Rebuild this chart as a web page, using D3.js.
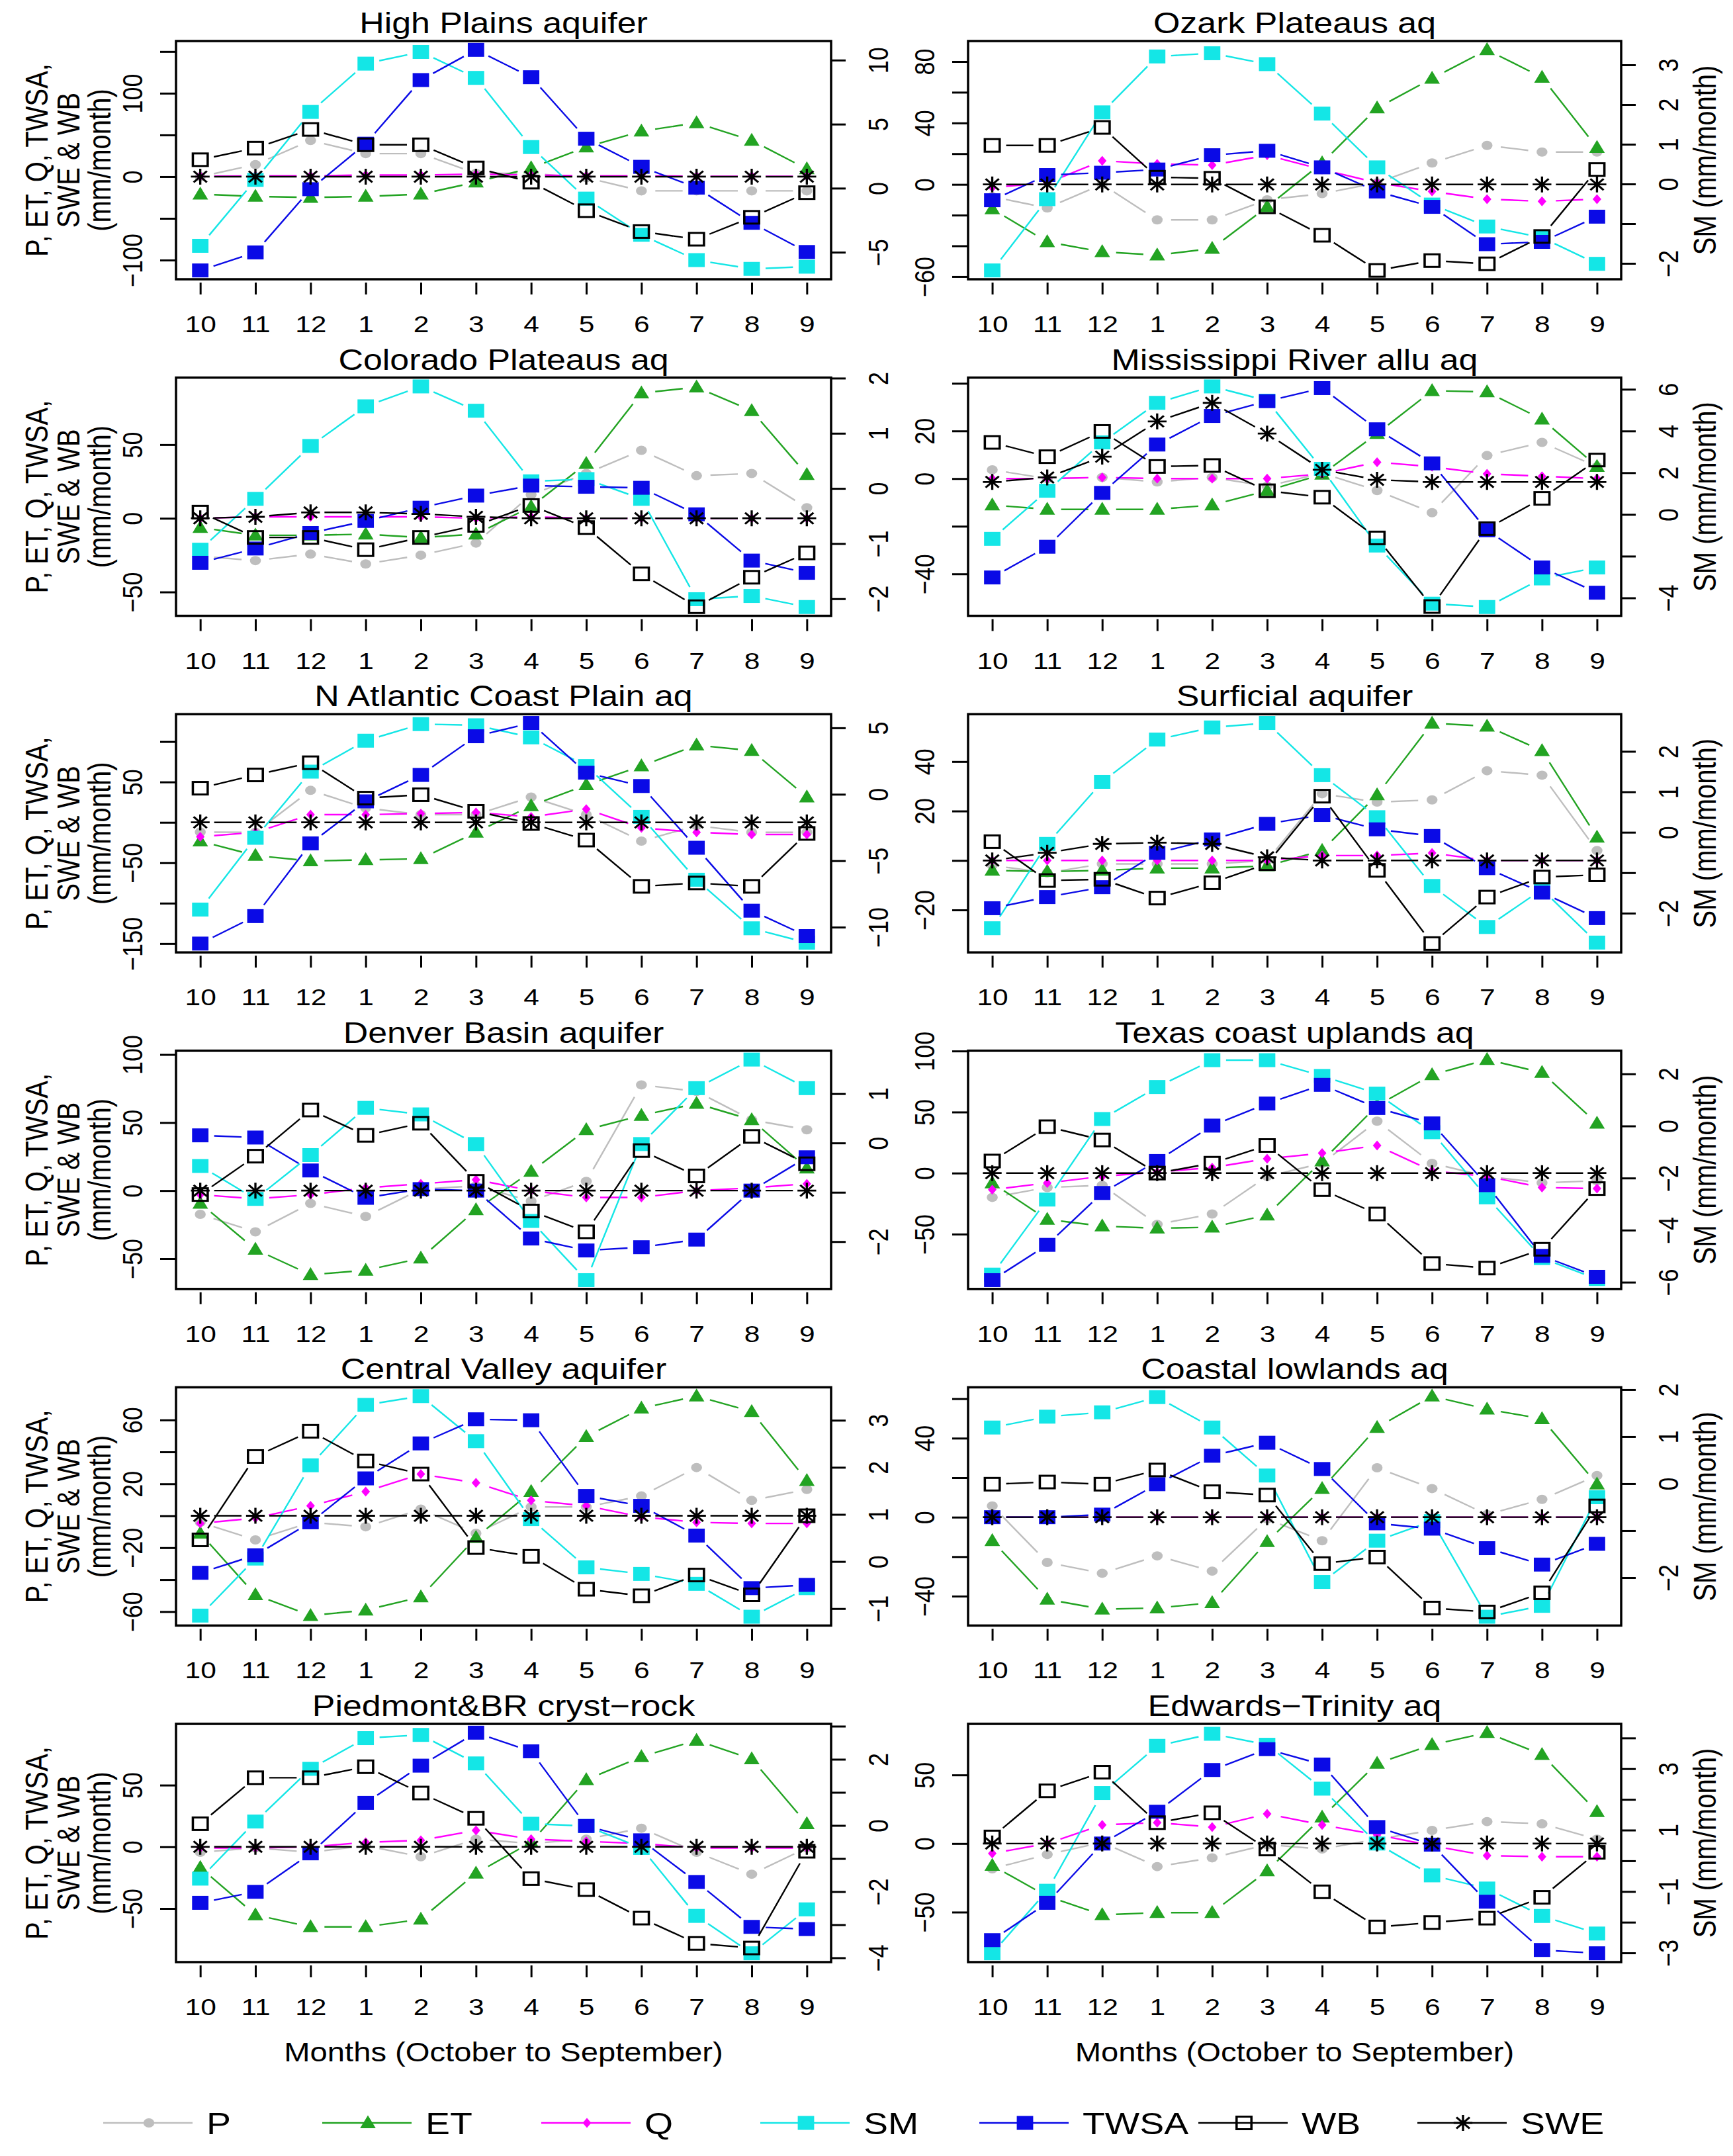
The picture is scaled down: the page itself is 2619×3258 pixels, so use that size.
<!DOCTYPE html>
<html>
<head>
<meta charset="utf-8">
<script src="https://cdn.jsdelivr.net/npm/d3@7"></script>
<style>
  body { margin: 0; background: #fff; }
  svg { display: block; }
  text { font-family: "Liberation Sans", Arial, sans-serif; fill: #000; }
</style>
</head>
<body>
<svg id="chart" width="2619" height="3258"></svg>
<script>
// ---- data (mm/month), water year Oct..Sep, one row per aquifer ----
const titles = ['High Plains aquifer', 'Ozark Plateaus aq', 'Colorado Plateaus aq', 'Mississippi River allu aq',
  'N Atlantic Coast Plain aq', 'Surficial aquifer', 'Denver Basin aquifer', 'Texas coast uplands aq',
  'Central Valley aquifer', 'Coastal lowlands aq', 'Piedmont&BR cryst\u2212rock', 'Edwards\u2212Trinity aq'];
const months = [10, 11, 12, 1, 2, 3, 4, 5, 6, 7, 8, 9];

const P = [
  [0, 14.5, 43.4, 27.6, 27.6, 4, 4, -1.3, -17, -17, -17, -17],
  [-8, -15.3, 0, -23.1, -23.1, -10, -6, 1, 14, 25.4, 21.1, 21.1],
  [-25.7, -28.7, -24.3, -31, -25, -16.8, 16, 30.4, 46.1, 28.9, 30.4, 7.2],
  [3.7, 0, 0.5, -1.4, 0.5, -3.2, 2.3, -5, -14.3, 9.7, 15.2, 5],
  [-12, -12.3, 39.6, 17.8, 9.6, 9.6, 31.4, 9.6, -23.2, -4, -12.3, -12.3],
  [-2, -5, -1.4, -1.4, -1.4, 0, 27, 23.6, 24.5, 36.3, 34.5, 4],
  [-17.4, -30.3, -9.4, -19, 1, 3.5, -7.7, 6.8, 77.7, 72.9, 52, 44.7],
  [-19.9, -11.8, -10, -42, -33.5, -2.7, 8, 42.5, 8, -2.7, -8, -6.3],
  [-4.1, -15.1, -4.1, -6.9, 4.1, -11, 5.5, 5.5, 12.4, 30.2, 9.6, 16.5],
  [5.7, -22.9, -28.4, -19.6, -27.3, -0.9, -11.9, 25, 14.5, 1.3, 9, 21.1],
  [-4.4, -0.9, -4.4, 0.9, -8, 6.2, 2.7, 6.2, 15.1, -4.4, -22.2, -0.9],
  [-18.4, -8, 0.8, -16.8, -10.4, -0.8, -4, 3.2, 9.6, 16, 14.4, 3.2]
];
const ET = [
  [-21, -23.7, -25, -23.7, -21, -6.6, 10.5, 35.5, 54.5, 64.5, 43.4, 9.2],
  [-16, -37.4, -43.9, -46, -41.7, -14.6, 14, 49.7, 69, 87.6, 69.7, 24],
  [-6.3, -11.5, -11.5, -10.8, -13, -10.8, 7.9, 37.1, 85, 89, 73, 29.6],
  [-11.1, -12.9, -12.9, -12.9, -11.1, -5.1, 1.8, 18.9, 36.9, 36.4, 24.9, 5.1],
  [-23.2, -41, -47.8, -46.4, -45, -12.3, 20.5, 46.4, 69.7, 95.6, 88.8, 31.4],
  [-4, -4.5, -4, -3.1, -3.1, -2.2, 4, 26.5, 55.5, 54.3, 44.4, 9.4],
  [-9.4, -43.2, -61.8, -58.6, -49.7, -14.2, 14, 44.7, 55.2, 64, 52, 16.5],
  [-8.1, -38, -43.4, -45.2, -44.3, -34.4, 9.9, 55.2, 80.5, 93, 82.3, 40.7],
  [-11, -49.5, -62.5, -59.1, -50.8, -13.7, 15.1, 49.5, 67.3, 74.9, 65.2, 22],
  [-11.9, -41.6, -46.6, -46, -43.3, -12.4, 14.5, 45.4, 61.3, 54.7, 49.8, 16.7],
  [-16.9, -55.2, -64.9, -64.9, -58.7, -21.4, 3.6, 54.3, 73, 86.3, 71.2, 18.7],
  [-16, -38.4, -52, -50.4, -50.4, -20, 19.2, 58.4, 72, 80.8, 64.8, 23.2]
];
const Q = [
  [0.5, 1, 1, 2, 2, 3, 2, 1, 1, 0.5, 0.5, 0.5],
  [-2, 1, 15.4, 13.3, 12.6, 19, 9.7, 1.1, -4.6, -9.6, -11, -9.6],
  [0, 1, 1, 1, 1, 0, 1, 0, 0, 0, 0, 0],
  [0, 0, 0.5, 0, 0, 0, 2, 6.9, 5, 2, 1, 0],
  [-17.8, -12.3, 9.6, 9.6, 10.9, 12.3, 6.8, 16.4, -6.8, -12.3, -15, -15],
  [0, 0, 0, 0, 0, 0, 2, 2, 3, 0, 0, 0],
  [-3, -6, -3, 2, 5, 8, 0, -5, -5, 0, 2, 5],
  [-13.6, -8.1, -2.7, 0.9, 4.5, 11.8, 16.3, 22.6, 1.8, -2.7, -11.8, -12.7],
  [-4.8, -1.4, 6.2, 15.1, 26.1, 20.6, 9.6, 6.2, -0.7, -4.1, -4.8, -4.8],
  [0, 0, 0, 0, 0, 0, 0, 0, 0, 0, 0, 0],
  [-0.9, -0.9, 0, 3.6, 5.3, 13.3, 6.2, 4.4, 2.7, -0.9, -0.9, -0.9],
  [-7.2, 0, 13.6, 15.2, 12, 21.6, 13.6, 6.4, -1.6, -8.8, -9.6, -9.6]
];
const SM = [
  [-82.9, -3.9, 77.6, 135.5, 149.5, 118.4, 35.5, -26.3, -69.7, -100, -110.5, -107.9],
  [-56, -9.6, 46.9, 83.3, 85.4, 78.3, 46.1, 11.1, -13.1, -27.4, -34.6, -51.7],
  [-21.3, 13.2, 49.1, 76, 89.5, 73, 25.1, 26.6, 13.2, -54.9, -52.7, -60.2],
  [-25.3, -5.1, 15.2, 31.8, 38.7, 32.7, 4.1, -28.1, -52.5, -53.9, -41.9, -37.3],
  [-107.9, -19.1, 62.8, 101.1, 121.6, 120.2, 105.2, 69.7, 6.8, -71, -131.1, -148.9],
  [-27.4, 6.7, 31.8, 48.9, 53.8, 55.6, 34.5, 17.5, -10.3, -26.9, -11.7, -33.2],
  [18.1, -6.1, 26.1, 60.8, 56, 34.2, -22.3, -65.8, 34.2, 75.3, 96.3, 75.3],
  [-83.2, -21.7, 44.3, 70.5, 92.5, 92.5, 79.6, 65.1, 33.5, -19.9, -69.6, -86.8],
  [-62.5, -26.8, 31.6, 69.4, 74.9, 46.7, -2.1, -32.3, -36.4, -42.6, -63.2, -45.3],
  [45.4, 50.9, 53.1, 60.8, 45.4, 21.1, -32.8, -11.9, -2, -50.4, -44.9, 10.1],
  [-25.8, 20.5, 63.2, 88.1, 90.7, 67.6, 18.7, 16.9, -0.9, -56, -86.3, -50.7],
  [-80, -34.4, 36.8, 71.2, 80, 72, 40, 0, -23.2, -32.8, -52.8, -65.6]
];
const TWSA = [
  [-112.4, -90.8, -15, 39.5, 115.8, 152, 119.2, 45.5, 11.8, -13.2, -55.3, -90.3],
  [-10.3, 6.1, 7.6, 9.7, 19, 21.9, 11.1, -4.6, -14.6, -38.9, -37.4, -21],
  [-30.2, -20.5, -10, -1.8, 7.2, 15.4, 22.2, 21.4, 20.7, 2.7, -28.7, -37],
  [-41.5, -28.6, -6, 14.3, 26.3, 32.5, 38, 20.7, 6.4, -21.7, -37.3, -47.9],
  [-150, -116, -26, 26, 58.7, 106.6, 123, 61.5, 45, -31.4, -109.3, -140.7],
  [-19.3, -14.8, -10.8, 3.1, 8.5, 14.8, 18.4, 12.6, 9.9, -3.1, -13, -23.3],
  [40.6, 39, 14.8, -5.3, 1.1, 0, -35.2, -44, -41.6, -36, 0, 24.5],
  [-87.7, -58.8, -16.3, 9.9, 38.9, 57, 72.3, 53.3, 40.7, -9.9, -67.8, -85],
  [-35.7, -24.7, -4.1, 23.4, 45.3, 60.4, 59.8, 12.4, 6.2, -12.4, -45.3, -43.3],
  [0, 0, 1.3, 16.7, 31.1, 37.7, 24.4, -3.1, -5.8, -15.7, -24, -13.5],
  [-45.4, -36.5, -5.3, 35.6, 65.8, 92.5, 77.4, 16.9, 5.3, -28.5, -64.9, -66.7],
  [-70.4, -43.2, 0, 23.2, 53.6, 68.8, 57.6, 12, -0.8, -42.4, -77.6, -80]
];
const WB = [
  [20.3, 34.2, 56.6, 38.2, 38.2, 10.5, -6.6, -40.8, -65.8, -75, -48.7, -19.2],
  [25.4, 25.4, 37.1, 4.7, 4, -14.6, -33.1, -56, -49.6, -51.7, -33.9, 9.7],
  [4.2, -13, -13, -21.3, -13, -4.8, 8.7, -6.3, -37.7, -60, -40, -23.5],
  [15.2, 9.2, 19.8, 5.1, 5.5, -5.1, -7.8, -24.9, -53.7, -21, -8.3, 7.8],
  [42.3, 58.7, 73.8, 30, 34.2, 13.7, -1.4, -21.9, -79.2, -75, -79.2, -13.7],
  [7.6, -8.1, -7.6, -15.2, -9, -1.3, 26, -4, -33.6, -14.8, -6.7, -5.8],
  [-2.9, 25.3, 59.2, 40.6, 49.5, 6.8, -15, -30.3, 29.4, 10.8, 39.8, 19.7],
  [9.9, 38, 27.1, 0, 8.1, 22.6, -13.6, -33.5, -74.1, -77.8, -62.4, -12.7],
  [-15.1, 37.1, 52.9, 34.3, 26.1, -19.9, -25.4, -46, -50.1, -37.1, -49.5, 0],
  [16.7, 17.8, 16.7, 23.9, 12.9, 11.2, -23.5, -20.2, -46, -48, -38.3, 5.7],
  [18.7, 56, 56, 64.9, 43.6, 23.1, -25.8, -34.7, -57.8, -78.3, -82, -3.6],
  [4.8, 38.4, 52, 15.2, 22.4, -4, -35.2, -60.8, -57.6, -54.4, -39.2, -6.4]
];
const SWE = [
  [0, 0, 0, 0, 0, 0, 0, 0, 0, 0, 0, 0],
  [0, 0, 0, 0, 0, 0, 0, 0, 0, 0, 0, 0],
  [0, 1, 4, 4, 3, 1, 0, 0, 0, 0, 0, 0],
  [-1.4, 0.5, 9.2, 24, 31.8, 18.9, 3.7, -0.5, -1.4, -1.4, -1.4, -1.4],
  [0, 0, 0, 0, 0, 0, 0, 0, 0, 0, 0, 0],
  [0, 3.1, 6.7, 7.2, 6.7, 1.3, 0, 0, 0, 0, 0, 0],
  [0, 0, 0, 0, 0, 0, 0, 0, 0, 0, 0, 0],
  [0, 0, 0, 0, 0, 0, 0, 0, 0, 0, 0, 0],
  [0, 0, 0, 0, 0, 0, 0, 0, 0, 0, 0, 0],
  [0, 0, 0, 0, 0, 0, 0, 0, 0, 0, 0, 0],
  [0, 0, 0, 0, 0, 0, 0, 0, 0, 0, 0, 0],
  [0, 0, 0, 0, 0, 0, 0, 0, 0, 0, 0, 0]
];

// left axis ticks and which of them carry a label
const leftTicks = [
  [-100, -50, 0, 50, 100, 150], [-60, -40, -20, 0, 20, 40, 60, 80], [-50, 0, 50], [-40, -20, 0, 20, 40],
  [-150, -100, -50, 0, 50, 100], [-20, 0, 20, 40], [-50, 0, 50, 100], [-50, 0, 50, 100],
  [-60, -40, -20, 0, 20, 40, 60], [-40, -20, 0, 20, 40, 60], [-50, 0, 50], [-50, 0, 50]
];
const leftLabels = [
  [-100, 0, 100], [-60, 0, 40, 80], [-50, 0, 50], [-40, 0, 20],
  [-150, -50, 50], [-20, 20, 40], [-50, 0, 50, 100], [-50, 0, 50, 100],
  [-60, -20, 20, 60], [-40, 0, 40], [-50, 0, 50], [-50, 0, 50]
];
// right (SM) axis: value range of the axis, ticks, labels
const rightDomain = [
  [-7.11, 11.49], [-2.40, 3.60], [-2.31, 2.01], [-4.86, 6.56], [-11.9, 6.03], [-2.97, 2.92],
  [-2.96, 1.87], [-6.26, 2.89], [-1.36, 3.70], [-3.02, 2.05], [-4.13, 3.07], [-3.30, 4.46]
];
const rightTicks = [
  [-5, 0, 5, 10], [-2, -1, 0, 1, 2, 3], [-2, -1, 0, 1, 2], [-4, -2, 0, 2, 4, 6],
  [-10, -5, 0, 5], [-2, -1, 0, 1, 2], [-2, -1, 0, 1], [-6, -4, -2, 0, 2],
  [-1, 0, 1, 2, 3], [-2, -1, 0, 1, 2], [-4, -3, -2, -1, 0, 1, 2, 3], [-3, -2, -1, 0, 1, 2, 3, 4]
];
const rightLabels = [
  [-5, 0, 5, 10], [-2, 0, 1, 2, 3], [-2, -1, 0, 1, 2], [-4, 0, 2, 4, 6],
  [-10, -5, 0, 5], [-2, 0, 1, 2], [-2, 0, 1], [-6, -4, -2, 0, 2],
  [-1, 0, 1, 2, 3], [-2, 0, 1, 2], [-4, -2, 0, 2], [-3, -1, 1, 3]
];

const seriesNames = ['P', 'ET', 'Q', 'SM', 'TWSA', 'WB', 'SWE'];
const seriesData = [P, ET, Q, SM, TWSA, WB, SWE];
const seriesColors = ['#bebebe', '#22a322', '#ff00ff', '#14e6e6', '#0a0ae6', '#000000', '#000000'];
const seriesShapes = ['circle', 'triangle', 'diamond', 'square', 'square', 'open', 'star'];

// ---- layout ----
const SX = 1.18;                // the figure's text and symbols are drawn horizontally stretched
const colLeft = [266, 1463], colRight = [1256, 2450];
const rowTop = r => 62 + 508.6 * r;
const plotH = 360;
const GAP = 21;                 // gap left around each point (type "b" lines)
const fmt = v => String(v).replace('-', '\u2212');

const svg = d3.select('#chart');
svg.append('rect').attr('width', 2619).attr('height', 3258).attr('fill', '#fff');

function stretchedText(g, x, y, str, size, rot, anchor = 'middle') {
  return g.append('text')
    .attr('transform', `translate(${x},${y}) scale(${SX},1)${rot ? ` rotate(${rot})` : ''}`)
    .attr('text-anchor', anchor)
    .attr('font-size', size)
    .text(str);
}

function marker(g, shape, x, y, color) {
  const m = g.append('g').attr('transform', `translate(${x},${y}) scale(${SX},1)`);
  if (shape === 'circle') m.append('circle').attr('r', 7).attr('fill', color);
  else if (shape === 'triangle') m.append('path').attr('d', 'M0,-11.5L10,8L-10,8Z').attr('fill', color);
  else if (shape === 'diamond') m.append('path').attr('d', 'M0,-7.5L5.5,0L0,7.5L-5.5,0Z').attr('fill', color);
  else if (shape === 'square') m.append('rect').attr('x', -10.5).attr('y', -10.5).attr('width', 21).attr('height', 21).attr('fill', color);
  else if (shape === 'open') m.append('rect').attr('x', -9.5).attr('y', -9.5).attr('width', 19).attr('height', 19)
    .attr('fill', 'none').attr('stroke', color).attr('stroke-width', 3);
  else if (shape === 'star') m.append('path')
    .attr('d', 'M0,-12V12M-12,0H12M-8.5,-8.5L8.5,8.5M-8.5,8.5L8.5,-8.5')
    .attr('stroke', color).attr('stroke-width', 2.8).attr('fill', 'none');
}

function gapSegments(pts) {
  return d3.pairs(pts).map(([a, b]) => {
    const dx = b[0] - a[0], dy = b[1] - a[1], len = Math.hypot(dx, dy);
    if (len <= 2 * GAP) return null;
    const ux = dx / len, uy = dy / len;
    return [a[0] + ux * GAP, a[1] + uy * GAP, b[0] - ux * GAP, b[1] - uy * GAP];
  }).filter(Boolean);
}

function styleAxis(sel) {
  sel.select('.domain').remove();
  sel.attr('font-family', null).attr('font-size', null);
  sel.selectAll('line').attr('stroke', '#000').attr('stroke-width', 3);
  sel.selectAll('text').attr('font-size', 36).attr('fill', '#000');
}

titles.forEach((title, i) => {
  const col = i % 2, row = Math.floor(i / 2);
  const left = colLeft[col], right = colRight[col];
  const top = rowTop(row), bottom = top + plotH;
  const g = svg.append('g');

  const x = d3.scaleLinear().domain([1 - 0.44, 12 + 0.44]).range([left, right]);
  const [lo, hi] = d3.extent(seriesData.flatMap(s => s[i]));
  const pad = (hi - lo) * 0.04;
  const y = d3.scaleLinear().domain([lo - pad, hi + pad]).range([bottom, top]);
  const y2 = d3.scaleLinear().domain(rightDomain[i]).range([bottom, top]);

  // series, drawn in legend order
  seriesData.forEach((data, s) => {
    const pts = data[i].map((v, k) => [x(k + 1), y(v)]);
    g.append('g').selectAll('line').data(gapSegments(pts)).join('line')
      .attr('x1', d => d[0]).attr('y1', d => d[1]).attr('x2', d => d[2]).attr('y2', d => d[3])
      .attr('stroke', seriesColors[s]).attr('stroke-width', 2.4);
    pts.forEach(([px, py]) => marker(g, seriesShapes[s], px, py, seriesColors[s]));
  });

  g.append('rect').attr('x', left).attr('y', top).attr('width', right - left).attr('height', bottom - top)
    .attr('fill', 'none').attr('stroke', '#000').attr('stroke-width', 3.5);

  // x axis
  const xa = g.append('g').attr('transform', `translate(0,${bottom + 5})`)
    .call(d3.axisBottom(x).tickValues(d3.range(1, 13)).tickFormat(k => months[k - 1]).tickSize(18).tickSizeOuter(0));
  styleAxis(xa);
  xa.selectAll('text').attr('y', null).attr('dy', null).attr('transform', `translate(0,75) scale(${SX},1)`);

  // left axis
  const yd = y.domain();
  const la = g.append('g').attr('transform', `translate(${left},0)`)
    .call(d3.axisLeft(y).tickValues(leftTicks[i].filter(t => t >= yd[0] && t <= yd[1]))
      .tickFormat(v => leftLabels[i].includes(v) ? fmt(v) : '').tickSize(24).tickSizeOuter(0));
  styleAxis(la);
  la.selectAll('text').attr('x', null).attr('dy', null).attr('text-anchor', 'middle')
    .attr('transform', `translate(-51,0) scale(${SX},1) rotate(-90)`);

  // right (SM) axis
  const ra = g.append('g').attr('transform', `translate(${right},0)`)
    .call(d3.axisRight(y2).tickValues(rightTicks[i])
      .tickFormat(v => rightLabels[i].includes(v) ? fmt(v) : '').tickSize(22).tickSizeOuter(0));
  styleAxis(ra);
  ra.selectAll('text').attr('x', null).attr('dy', null).attr('text-anchor', 'middle')
    .attr('transform', `translate(86,0) scale(${SX},1) rotate(-90)`);

  stretchedText(g, (left + right) / 2, top - 12, title, 44);

  const midY = (top + bottom) / 2;
  if (col === 0) {
    stretchedText(g, left - 194, midY, 'P, ET, Q, TWSA,', 40, -90);
    stretchedText(g, left - 146, midY, 'SWE & WB', 40, -90);
    stretchedText(g, left - 99, midY, '(mm/month)', 40, -90);
  } else {
    stretchedText(g, right + 143, midY, 'SM (mm/month)', 40, -90);
  }
  if (row === 5) stretchedText(g, (left + right) / 2, bottom + 150, 'Months (October to September)', 40);
});

// legend
const legend = svg.append('g');
const legendY = 3208;
seriesNames.forEach((name, s) => {
  const x0 = 156 + 331 * s;
  legend.append('line').attr('x1', x0).attr('x2', x0 + 135).attr('y1', legendY).attr('y2', legendY)
    .attr('stroke', seriesColors[s]).attr('stroke-width', 2.4);
  marker(legend, seriesShapes[s], x0 + 69, legendY, seriesColors[s]);
  stretchedText(legend, x0 + 156, legendY + 17, name, 47, 0, 'start');
});
</script>
</body>
</html>
